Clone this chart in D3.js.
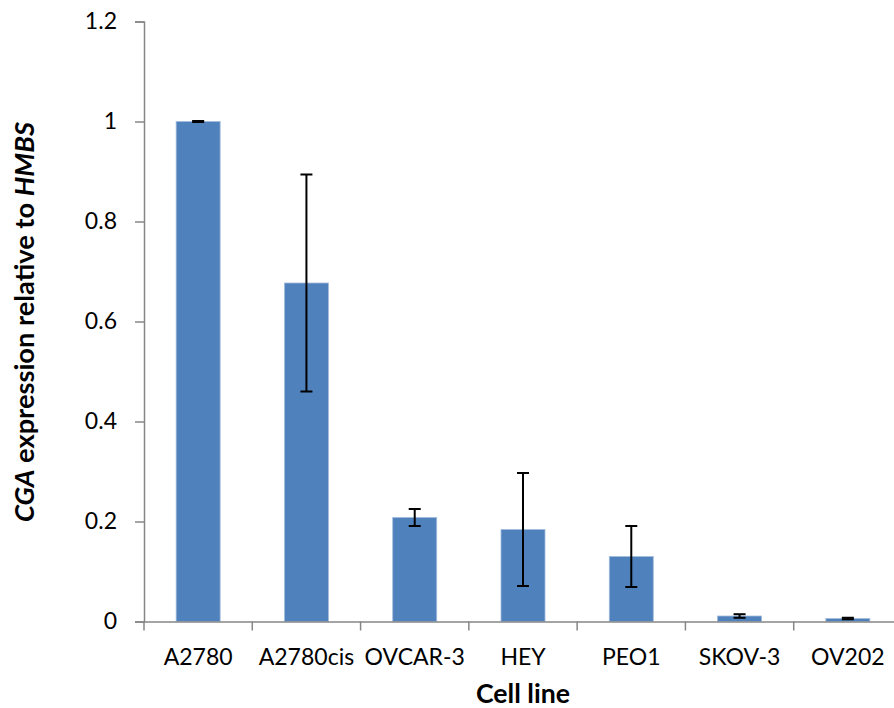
<!DOCTYPE html>
<html>
<head>
<meta charset="utf-8">
<script src="https://cdn.jsdelivr.net/npm/d3@7"></script>
<style>
  html, body { margin: 0; padding: 0; background: #fff; }
  svg { display: block; }
  text { font-family: Lato, "Open Sans", sans-serif; fill: #000; }
</style>
</head>
<body>
<svg id="chart" width="894" height="708"></svg>
<script>
// Cell lines and relative CGA expression (mean ± error)
const cellLines = ["A2780", "A2780cis", "OVCAR-3", "HEY", "PEO1", "SKOV-3", "OV202"];
const expression = [1.0, 0.677, 0.208, 0.184, 0.130, 0.011, 0.006];
const errors = [0.001, 0.217, 0.017, 0.113, 0.061, 0.0036, 0.0015];
const yTicks = [0, 0.2, 0.4, 0.6, 0.8, 1, 1.2];

const svg = d3.select("#chart");
const plotLeft = 144, plotRight = 902, plotTop = 21.5, plotBottom = 621.5;

const band = d3.scaleBand().domain(cellLines).range([plotLeft, plotRight]);
const y = d3.scaleLinear().domain([0, 1.2]).range([plotBottom, plotTop]);

const axisColor = "#868686";
const barWidth = 44;

// Resize a text element so that its rendered width equals `width`
function fitWidth(sel, width) {
  const base = parseFloat(sel.attr("font-size"));
  const w = sel.node().getComputedTextLength();
  sel.attr("font-size", base * width / w);
  return base * width / w;
}

// Bars
svg.append("g").selectAll("rect")
  .data(cellLines)
  .join("rect")
  .attr("x", d => band(d) + band.bandwidth() / 2 - barWidth / 2)
  .attr("width", barWidth)
  .attr("y", (d, i) => y(expression[i]))
  .attr("height", (d, i) => y(0) - y(expression[i]))
  .attr("fill", "#4f81bd")
  .attr("stroke", "#a3bcdc")
  .attr("stroke-width", 0.8);

// Tick label size: "A2780" is about 69px wide
const probe = svg.append("text").attr("font-size", 22).text("A2780");
const tickFont = fitWidth(probe, 69);
probe.remove();

// Y axis
const yAxis = svg.append("g")
  .attr("transform", `translate(${plotLeft},0)`)
  .call(d3.axisLeft(y).tickValues(yTicks).tickSize(9).tickPadding(18)
    .tickFormat(d => String(+d.toFixed(1))));
yAxis.select(".domain").attr("stroke", axisColor).attr("stroke-width", 1.5);
yAxis.selectAll(".tick line").attr("stroke", axisColor).attr("stroke-width", 1.5);
yAxis.selectAll(".tick text").attr("font-size", tickFont).attr("font-family", "Lato, sans-serif").attr("fill", "#000");

// X axis
const xAxis = svg.append("g")
  .attr("transform", `translate(0,${plotBottom})`)
  .call(d3.axisBottom(band).tickSize(0).tickPadding(0));
xAxis.select(".domain").attr("stroke", axisColor).attr("stroke-width", 1.5);
xAxis.selectAll(".tick text")
  .attr("font-size", tickFont).attr("font-family", "Lato, sans-serif").attr("fill", "#000")
  .attr("y", 43).attr("dy", null);

// Category separator ticks on the x axis
svg.append("g").selectAll("line")
  .data(cellLines)
  .join("line")
  .attr("x1", d => band(d)).attr("x2", d => band(d))
  .attr("y1", plotBottom).attr("y2", plotBottom + 9)
  .attr("stroke", axisColor).attr("stroke-width", 1.5);

// Error bars
const eb = svg.append("g").attr("stroke", "#000").attr("stroke-width", 2);
cellLines.forEach((c, i) => {
  const cx = band(c) + band.bandwidth() / 2;
  const hi = y(expression[i] + errors[i]);
  const lo = y(expression[i] - errors[i]);
  eb.append("line").attr("x1", cx).attr("x2", cx).attr("y1", hi).attr("y2", lo);
  eb.append("line").attr("x1", cx - 6).attr("x2", cx + 6).attr("y1", hi).attr("y2", hi);
  eb.append("line").attr("x1", cx - 6).attr("x2", cx + 6).attr("y1", lo).attr("y2", lo);
});

// Axis titles
const xTitle = svg.append("text")
  .attr("x", 523)
  .attr("y", 703)
  .attr("text-anchor", "middle")
  .attr("font-size", 26)
  .attr("font-weight", "bold")
  .text("Cell line");
fitWidth(xTitle, 94);

const yTitle = svg.append("text")
  .attr("transform", "translate(34,322) rotate(-90)")
  .attr("text-anchor", "middle")
  .attr("font-size", 26)
  .attr("font-weight", "bold");
yTitle.append("tspan").attr("font-style", "italic").text("CGA");
yTitle.append("tspan").text(" expression relative to ");
yTitle.append("tspan").attr("font-style", "italic").text("HMBS");
fitWidth(yTitle, 400);
</script>
</body>
</html>
